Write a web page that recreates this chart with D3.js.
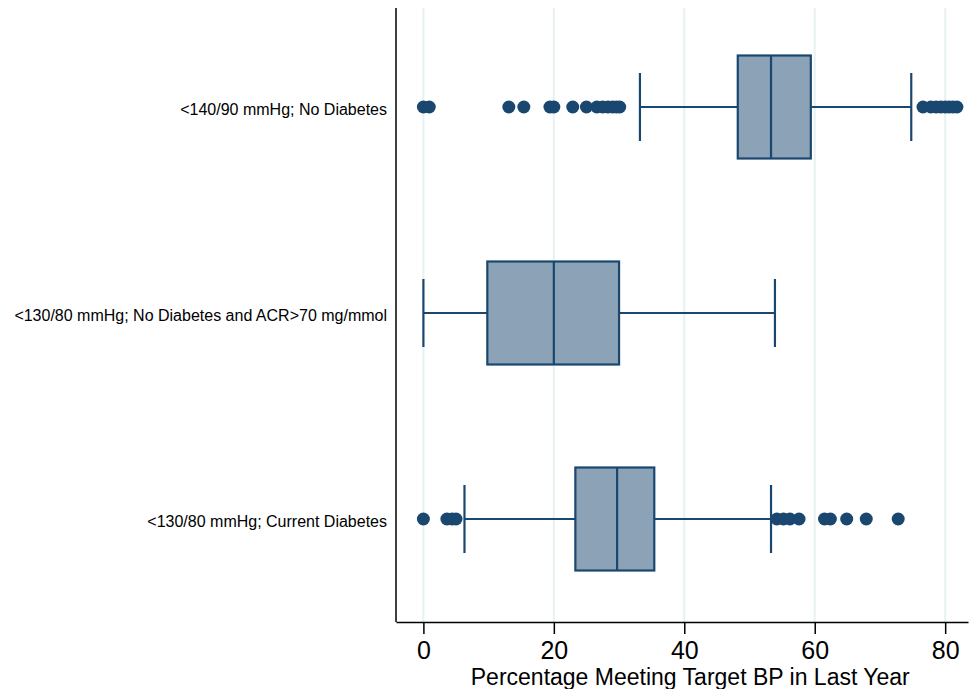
<!DOCTYPE html>
<html>
<head>
<meta charset="utf-8">
<script src="https://cdn.jsdelivr.net/npm/d3@7"></script>
<style>
  body { margin: 0; background: #fff; }
  text { font-family: "Liberation Sans", Arial, sans-serif; }
</style>
</head>
<body>
<svg id="chart" width="972" height="689"></svg>
<script>
// categories, top to bottom
const groups = [
    "<140/90 mmHg; No Diabetes",
    "<130/80 mmHg; No Diabetes and ACR>70 mg/mmol",
    "<130/80 mmHg; Current Diabetes"
];

// box summaries: [lower whisker, Q1, median, Q3, upper whisker]
const boxStats = [
    [33.2, 48.2, 53.3, 59.4, 74.8],
    [0.0, 9.8, 20.0, 30.0, 53.9],
    [6.3, 23.3, 29.7, 35.4, 53.3]
];

const outliers = [
    [0, 0.9, 13.1, 15.4, 19.4, 20.0, 22.9, 25.0, 26.6, 27.5, 28.3, 29.0, 29.6, 30.1,
     76.6, 77.8, 78.6, 79.3, 80.0, 80.6, 81.2, 81.8],
    [],
    [0, 3.6, 4.4, 5.0, 54.2, 55.2, 56.2, 57.6, 61.5, 62.4, 64.9, 67.9, 72.8]
];

const xTicks = [0, 20, 40, 60, 80];
const xTitle = "Percentage Meeting Target BP in Last Year";

const navy = "#1a476f";
const boxFill = "#8ca2b6";
const gridColor = "#e8f1f2";

const svg = d3.select("#chart");
const margin = { left: 396, right: 4, top: 8, bottom: 67 };
const width = 972, height = 689;

const x = d3.scaleLinear()
    .domain([-4.2, 83.5])
    .range([margin.left, width - margin.right]);

const y = d3.scalePoint()
    .domain(groups)
    .range([107, 519]);

const boxH = 103;
const capH = 68;

// grid lines
svg.append("g")
    .selectAll("line")
    .data(xTicks)
    .enter().append("line")
    .attr("x1", d => x(d)).attr("x2", d => x(d))
    .attr("y1", margin.top).attr("y2", height - margin.bottom)
    .attr("stroke", gridColor)
    .attr("stroke-width", 2);

// boxes
const g = svg.append("g")
    .selectAll("g")
    .data(groups)
    .enter().append("g");

g.append("line")
    .attr("x1", (d, i) => x(boxStats[i][0]))
    .attr("x2", (d, i) => x(boxStats[i][4]))
    .attr("y1", d => y(d)).attr("y2", d => y(d))
    .attr("stroke", navy).attr("stroke-width", 2);

g.selectAll(".cap")
    .data((d, i) => [boxStats[i][0], boxStats[i][4]].map(v => ({ v: v, c: y(d) })))
    .enter().append("line")
    .attr("class", "cap")
    .attr("x1", d => x(d.v)).attr("x2", d => x(d.v))
    .attr("y1", d => d.c - capH / 2).attr("y2", d => d.c + capH / 2)
    .attr("stroke", navy).attr("stroke-width", 2.2);

g.append("rect")
    .attr("x", (d, i) => x(boxStats[i][1]))
    .attr("width", (d, i) => x(boxStats[i][3]) - x(boxStats[i][1]))
    .attr("y", d => y(d) - boxH / 2)
    .attr("height", boxH)
    .attr("fill", boxFill)
    .attr("stroke", navy).attr("stroke-width", 2.2);

g.append("line")
    .attr("x1", (d, i) => x(boxStats[i][2]))
    .attr("x2", (d, i) => x(boxStats[i][2]))
    .attr("y1", d => y(d) - boxH / 2).attr("y2", d => y(d) + boxH / 2)
    .attr("stroke", navy).attr("stroke-width", 2.2);

g.selectAll(".out")
    .data((d, i) => outliers[i].map(v => ({ v: v, c: y(d) })))
    .enter().append("circle")
    .attr("class", "out")
    .attr("cx", d => x(d.v))
    .attr("cy", d => d.c)
    .attr("r", 6.5)
    .attr("fill", navy);

// x axis
const xAxis = d3.axisBottom(x).tickValues(xTicks).tickSize(12).tickPadding(7).tickSizeOuter(0);
const xg = svg.append("g")
    .attr("transform", "translate(0," + (height - margin.bottom) + ")")
    .call(xAxis);
xg.select(".domain").attr("stroke", "#000").attr("stroke-width", 1.5);
xg.selectAll(".tick line").attr("stroke", "#000").attr("stroke-width", 1.5);
xg.selectAll(".tick text")
    .attr("font-size", 25)
    .attr("fill", "#000")
    .attr("font-family", "Liberation Sans, Arial, sans-serif");

svg.append("text")
    .attr("x", x(40) + 6)
    .attr("y", 685)
    .attr("text-anchor", "middle")
    .attr("font-size", 23)
    .attr("fill", "#000")
    .text(xTitle);

// y axis
const yAxis = d3.axisLeft(y).tickSize(0).tickPadding(9);
const yg = svg.append("g")
    .attr("transform", "translate(" + margin.left + ",0)")
    .call(yAxis);
yg.select(".domain").attr("d", "M0," + margin.top + "V" + (height - margin.bottom))
    .attr("stroke", "#000").attr("stroke-width", 1.5);
yg.selectAll(".tick text")
    .attr("font-size", 16)
    .attr("dy", "0.48em")
    .attr("fill", "#000")
    .attr("font-family", "Liberation Sans, Arial, sans-serif");
</script>
</body>
</html>
